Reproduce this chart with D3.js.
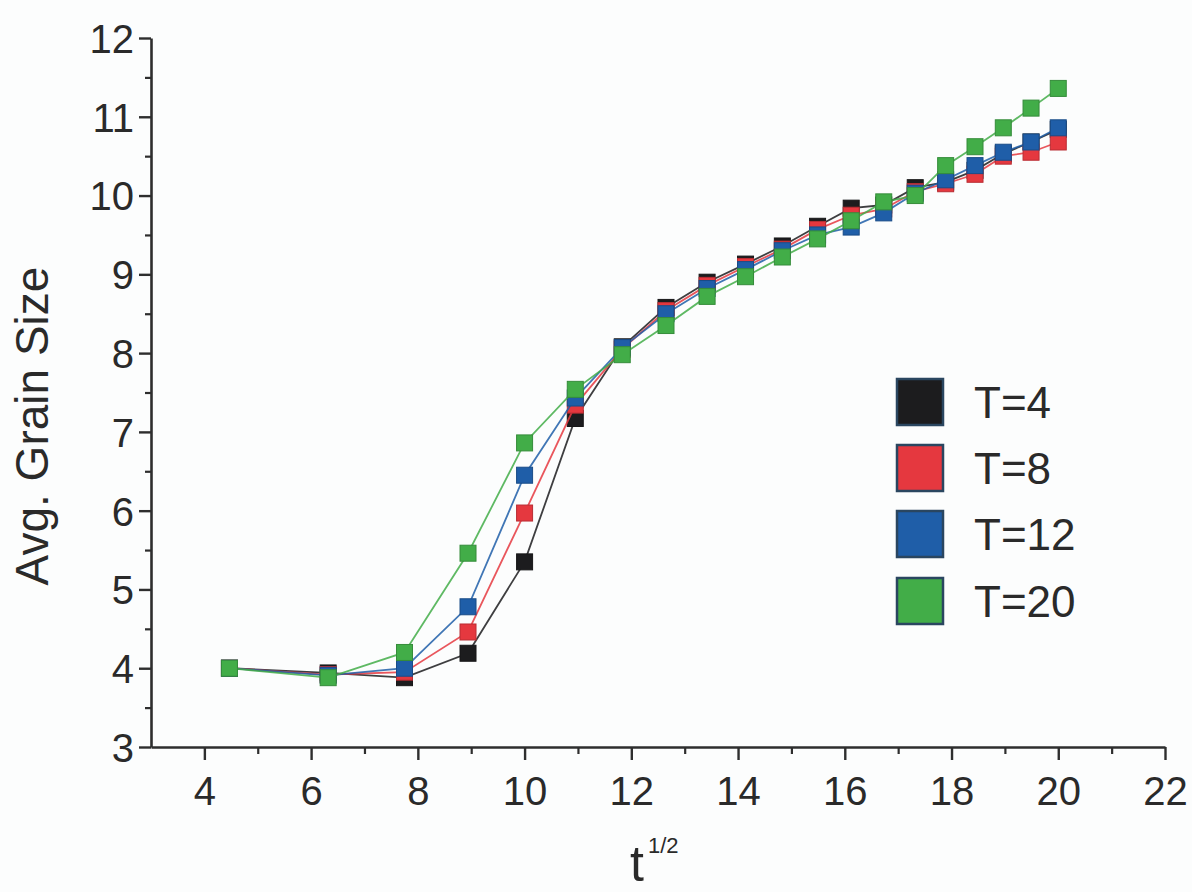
<!DOCTYPE html>
<html>
<head>
<meta charset="utf-8">
<script src="https://cdn.jsdelivr.net/npm/d3@7"></script>
<style>
  html, body { margin: 0; padding: 0; background: #fcfdfd; }
  svg { display: block; }
  text { font-family: "Liberation Sans", Arial, sans-serif; fill: #2a2a2a; }
</style>
</head>
<body>
<svg id="chart" width="1192" height="892"></svg>
<script>
// ---- data ----
const tHalf = [4.47, 6.32, 7.75, 8.94, 10.0, 10.95, 11.83, 12.65, 13.42, 14.14, 14.83, 15.49, 16.12, 16.73, 17.32, 17.89, 18.44, 18.97, 19.49, 20.0];
const sizeT4  = [4.00, 3.94, 3.88, 4.19, 5.35, 7.17, 8.08, 8.58, 8.90, 9.13, 9.36, 9.61, 9.84, 9.88, 10.10, 10.17, 10.32, 10.53, 10.68, 10.84];
const sizeT8  = [4.00, 3.92, 3.95, 4.46, 5.97, 7.34, 8.05, 8.54, 8.86, 9.10, 9.32, 9.57, 9.75, 9.83, 10.05, 10.15, 10.27, 10.50, 10.55, 10.68];
const sizeT12 = [4.00, 3.91, 4.00, 4.78, 6.45, 7.43, 8.07, 8.50, 8.82, 9.06, 9.30, 9.50, 9.60, 9.78, 10.03, 10.20, 10.38, 10.55, 10.68, 10.86];
const sizeT20 = [4.00, 3.88, 4.20, 5.46, 6.86, 7.54, 7.98, 8.35, 8.72, 8.97, 9.22, 9.45, 9.68, 9.92, 10.00, 10.38, 10.62, 10.86, 11.11, 11.36];
const seriesNames = ["T=4", "T=8", "T=12", "T=20"];
const seriesColors = ["#1c1c1e", "#e5383f", "#1f5ea8", "#42ad48"];
const seriesValues = [sizeT4, sizeT8, sizeT12, sizeT20];
const xTicks = [4, 6, 8, 10, 12, 14, 16, 18, 20, 22];
const xMinorTicks = [5, 7, 9, 11, 13, 15, 17, 19, 21];
const yTicks = [3, 4, 5, 6, 7, 8, 9, 10, 11, 12];
const yMinorTicks = [3.5, 4.5, 5.5, 6.5, 7.5, 8.5, 9.5, 10.5, 11.5];

// ---- layout ----
const svg = d3.select("#chart");
const plotL = 151, plotR = 1165, plotT = 38, plotB = 747;
const x = d3.scaleLinear().domain([3, 22]).range([plotL, plotR]);
const y = d3.scaleLinear().domain([3, 12]).range([plotB, plotT]);
const axisColor = "#2e2e2e";

// minor ticks
const gxm = svg.append("g").attr("transform", `translate(0,${plotB})`)
  .call(d3.axisBottom(x).tickValues(xMinorTicks).tickSize(7).tickFormat("").tickSizeOuter(0));
gxm.select(".domain").remove();
gxm.selectAll("line").attr("stroke", axisColor).attr("stroke-width", 2.2);

const gym = svg.append("g").attr("transform", `translate(${plotL},0)`)
  .call(d3.axisLeft(y).tickValues(yMinorTicks).tickSize(6).tickFormat("").tickSizeOuter(0));
gym.select(".domain").remove();
gym.selectAll("line").attr("stroke", axisColor).attr("stroke-width", 2.2);

// major axes
const gx = svg.append("g").attr("transform", `translate(0,${plotB})`)
  .call(d3.axisBottom(x).tickValues(xTicks).tickSize(13).tickSizeOuter(0).tickFormat(d3.format("d")));
gx.select(".domain").attr("stroke", axisColor).attr("stroke-width", 2.6);
gx.selectAll(".tick line").attr("stroke", axisColor).attr("stroke-width", 2.4);
gx.selectAll(".tick text").attr("y", 58).attr("dy", 0)
  .style("font-size", "40px").style("font-family", "'Liberation Sans', Arial, sans-serif").attr("fill", "#2a2a2a");

const gy = svg.append("g").attr("transform", `translate(${plotL},0)`)
  .call(d3.axisLeft(y).tickValues(yTicks).tickSize(12).tickSizeOuter(0).tickFormat(d3.format("d")));
gy.select(".domain").attr("stroke", axisColor).attr("stroke-width", 2.6);
gy.selectAll(".tick line").attr("stroke", axisColor).attr("stroke-width", 2.4);
gy.selectAll(".tick text").attr("x", -17).attr("dy", "0.36em")
  .style("font-size", "40px").style("font-family", "'Liberation Sans', Arial, sans-serif").attr("fill", "#2a2a2a");

// axis titles
svg.append("text")
  .attr("transform", `translate(48,426) rotate(-90)`)
  .attr("text-anchor", "middle")
  .style("font-size", "46px")
  .text("Avg. Grain Size");

svg.append("text").attr("x", 630).attr("y", 881).style("font-size", "50px").text("t");
svg.append("text").attr("x", 648).attr("y", 853).style("font-size", "22px").text("1/2");

// ---- series ----
const line = d3.line().x((d, i) => x(tHalf[i])).y(d => y(d));
const ms = 16;
seriesValues.forEach((vals, s) => {
  const g = svg.append("g");
  g.append("path").datum(vals)
    .attr("d", line)
    .attr("fill", "none")
    .attr("stroke", seriesColors[s])
    .attr("stroke-width", 1.8)
    .attr("stroke-opacity", 0.85);
  g.selectAll("rect").data(vals).join("rect")
    .attr("x", (d, i) => x(tHalf[i]) - ms / 2)
    .attr("y", d => y(d) - ms / 2)
    .attr("width", ms).attr("height", ms)
    .attr("fill", seriesColors[s])
    .attr("stroke", d3.color(seriesColors[s]).darker(0.6))
    .attr("stroke-width", 1);
});

// ---- legend ----
const legY = [402, 468, 534, 601];
const lg = svg.append("g");
seriesNames.forEach((name, s) => {
  lg.append("rect")
    .attr("x", 897).attr("y", legY[s] - 23)
    .attr("width", 46).attr("height", 46)
    .attr("fill", seriesColors[s])
    .attr("stroke", "#2a4660").attr("stroke-width", 2.5);
  lg.append("text")
    .attr("x", 974).attr("y", legY[s])
    .attr("dy", "0.36em")
    .style("font-size", "44px")
    .text(name);
});
</script>
</body>
</html>
